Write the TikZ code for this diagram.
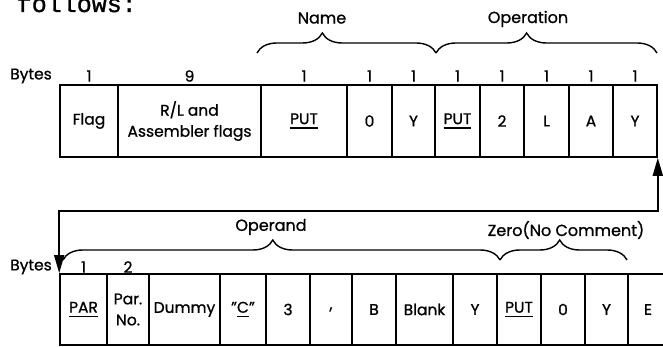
\documentclass[tikz,border=0pt]{standalone}
\usepackage{fontspec}
\setmainfont{Poppins}[FakeBold=0.9]
\newfontfamily\typewriter{Liberation Mono}[FakeBold=1.2]
\usetikzlibrary{arrows.meta,decorations.pathreplacing}
\newcommand\fieldul[1]{\setbox0\hbox{#1}\rlap{\rule[-4.5pt]{\wd0}{1.6pt}}\box0}

\begin{document}
\begin{tikzpicture}[x=1pt, y=-1pt, line width=1.6pt,
  cellbox/.style={rectangle,draw,inner sep=0pt,align=center,font=\fontsize{15.5}{21}\selectfont},
  bytenum/.style={inner sep=0pt,font=\fontsize{15.5}{18}\selectfont},
  title/.style={inner sep=0pt,font=\fontsize{16}{18}\selectfont},
  fieldbrace/.style={decorate,line width=1.4pt,decoration={brace,amplitude=20pt,aspect=#1}},
  loop arrow/.style={{Triangle[length=18pt,width=10pt]}-{Triangle[length=18pt,width=10pt]}}]
\clip (0,0) rectangle (663,347);
\node [anchor=base west,inner sep=0pt,font=\typewriter\fontsize{25}{25}\selectfont] (intro) at (16,12) {follows:};
% top row
\begin{scope}[every node/.style={cellbox,minimum height=72pt}]
\node [minimum width=58pt](t1) at (89,121) {Flag};
\node [minimum width=143pt](t2) at (189.5,121) {R/L and\\Assembler flags};
\node [minimum width=86pt](t3) at (304,121) {\fieldul{PUT}};
\node [minimum width=45pt](t4) at (369.5,121) {0};
\node [minimum width=43pt](t5) at (413.5,121) {Y};
\node [minimum width=45pt](t6) at (457.5,121) {\fieldul{PUT}};
\node [minimum width=44pt](t7) at (502,121) {2};
\node [minimum width=45pt](t8) at (546.5,121) {L};
\node [minimum width=44pt](t9) at (591,121) {A};
\node [minimum width=44pt](t10) at (635,121) {Y};
\end{scope}
% bottom row
\begin{scope}[every node/.style={cellbox,minimum height=71pt}]
\node [minimum width=47pt](b1) at (83.5,309.5) {\fieldul{PAR}};
\node [minimum width=42pt](b2) at (128,309.5) {Par.\\No.};
\node [minimum width=71pt](b3) at (184.5,309.5) {Dummy};
\node [minimum width=46pt](b4) at (243,309.5) {"\fieldul{C}"};
\node [minimum width=44pt](b5) at (288,309.5) {3};
\node [minimum width=42pt](b6) at (331,309.5) {,};
\node [minimum width=44pt](b7) at (374,309.5) {B};
\node [minimum width=57pt](b8) at (424.5,309.5) {Blank};
\node [minimum width=44pt](b9) at (475,309.5) {Y};
\node [minimum width=44pt](b10) at (519,309.5) {\fieldul{PUT}};
\node [minimum width=44pt](b11) at (563,309.5) {0};
\node [minimum width=43pt](b12) at (606.5,309.5) {Y};
\node [minimum width=40pt](b13) at (648,309.5) {E};
\end{scope}
% byte counts
\coordinate (topnums) at (0,76);
\coordinate (botnums) at (0,267);
\node [bytenum](tbytes) at (31,76) {Bytes};
\node [bytenum] at (t1 |- topnums) {1};
\node [bytenum] at (t2 |- topnums) {9};
\node [bytenum] at (t3 |- topnums) {1};
\node [bytenum] at (t4 |- topnums) {1};
\node [bytenum] at (t5 |- topnums) {1};
\node [bytenum] at (t6 |- topnums) {1};
\node [bytenum] at (t7 |- topnums) {1};
\node [bytenum] at (t8 |- topnums) {1};
\node [bytenum] at (t9 |- topnums) {1};
\node [bytenum] at (t10 |- topnums) {1};
\node [bytenum](bbytes) at (31,267) {Bytes};
\node [bytenum] at (b1 |- botnums) {1};
\node [bytenum] at (b2 |- botnums) {2};
% braces
\draw [fieldbrace=0.365] (257,53) -- (436,53);
\draw [fieldbrace=0.41] (436,53) -- (657,53);
\draw [fieldbrace=0.48] (63,260) -- (500,260);
\draw [fieldbrace=0.47] (500,260) -- (627,260);
\node [title](name) at (322,18) {Name};
\node [title](operation) at (528,19) {Operation};
\node [title](operand) at (271,227) {Operand};
\node [title](zero) at (566,230) {Zero(No Comment)};
% loop back
\coordinate (loop) at (0,211);
\draw [loop arrow] (t10.south east) -- (t10.south east |- loop) -- (b1.north west |- loop) -- (b1.north west);
\end{tikzpicture}
\end{document}
